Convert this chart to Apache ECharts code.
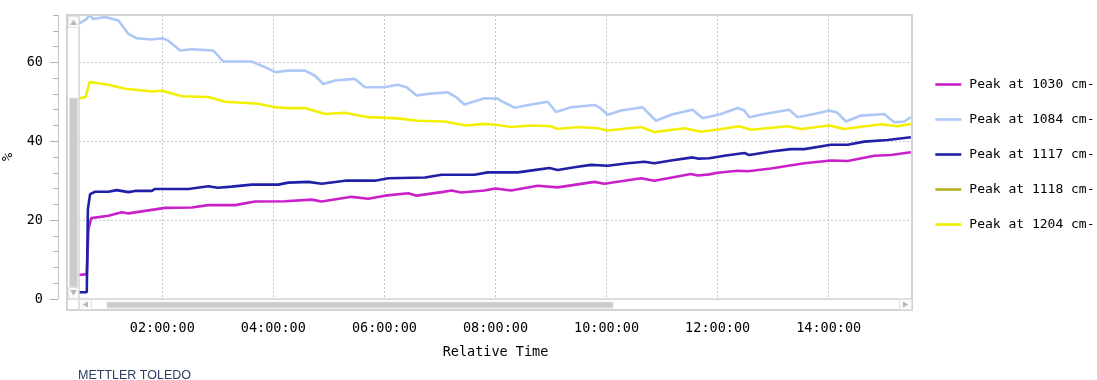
<!DOCTYPE html>
<html>
<head>
<meta charset="utf-8">
<script src="https://cdn.jsdelivr.net/npm/echarts@6/dist/echarts.min.js"></script>
<style>
html,body{margin:0;padding:0;background:#fff;}
#c{width:1097px;height:380px;}
</style>
</head>
<body>
<div id="c"></div>
<script>
// ---- data (time in hours, value in %) ----
const seriesNames = ['Peak at 1030 cm-', 'Peak at 1084 cm-', 'Peak at 1117 cm-', 'Peak at 1118 cm-', 'Peak at 1204 cm-'];
const seriesColors = ['#c920c9', '#adc8f6', '#2020a6', '#b6b41c', '#f2f000'];
const xTickHours = [2, 4, 6, 8, 10, 12, 14];
const yTickValues = [0, 20, 40, 60];

const peak1030 = [[0.50,6.1],[0.64,6.3],[0.67,17.7],[0.72,20.5],[1.03,21.1],[1.27,22.0],[1.39,21.7],[1.81,22.6],[2.05,23.1],[2.53,23.2],[2.83,23.8],[3.31,23.8],[3.67,24.7],[4.21,24.8],[4.69,25.2],[4.87,24.7],[5.41,25.9],[5.71,25.4],[6.01,26.2],[6.43,26.8],[6.58,26.2],[7.03,27.1],[7.21,27.5],[7.38,27.0],[7.80,27.5],[8.00,28.0],[8.28,27.5],[8.76,28.7],[9.12,28.3],[9.78,29.7],[9.96,29.2],[10.62,30.6],[10.86,30.0],[11.52,31.7],[11.64,31.3],[11.85,31.6],[12.00,32.0],[12.36,32.5],[12.54,32.4],[12.96,33.1],[13.56,34.4],[14.04,35.1],[14.34,35.0],[14.82,36.3],[15.12,36.5],[15.48,37.2]];
const peak1084 = [[0.50,69.8],[0.64,71.0],[0.68,72.0],[0.76,71.0],[0.97,71.5],[1.21,70.6],[1.39,67.2],[1.54,66.1],[1.81,65.8],[2.00,66.1],[2.11,65.5],[2.32,63.0],[2.53,63.3],[2.92,63.0],[3.10,60.2],[3.61,60.2],[3.91,58.4],[4.03,57.5],[4.27,57.9],[4.57,57.9],[4.75,56.6],[4.90,54.5],[5.11,55.4],[5.47,55.8],[5.65,53.7],[6.00,53.7],[6.24,54.3],[6.40,53.7],[6.58,51.6],[6.78,52.0],[7.14,52.4],[7.29,51.2],[7.44,49.3],[7.80,50.9],[8.04,50.8],[8.13,50.0],[8.34,48.5],[8.64,49.3],[8.94,50.0],[9.09,47.4],[9.36,48.6],[9.78,49.2],[9.87,48.6],[10.02,46.7],[10.26,47.8],[10.65,48.6],[10.89,45.2],[11.16,46.7],[11.55,48.0],[11.73,45.8],[12.06,46.9],[12.36,48.4],[12.48,47.8],[12.57,46.1],[12.84,46.9],[13.29,48.0],[13.44,46.1],[13.74,46.9],[14.01,47.8],[14.16,47.2],[14.31,45.0],[14.58,46.5],[15.00,46.9],[15.18,44.8],[15.36,45.0],[15.48,46.1]];
const peak1117 = [[0.50,1.7],[0.64,1.7],[0.66,22.8],[0.70,26.6],[0.79,27.2],[1.03,27.2],[1.18,27.6],[1.39,27.1],[1.51,27.4],[1.81,27.4],[1.87,27.9],[2.47,27.9],[2.83,28.6],[3.00,28.2],[3.25,28.5],[3.61,29.0],[4.09,29.0],[4.27,29.5],[4.63,29.7],[4.87,29.2],[5.29,30.0],[5.83,30.0],[6.07,30.6],[6.73,30.8],[7.03,31.5],[7.62,31.5],[7.86,32.1],[8.40,32.1],[8.76,32.8],[8.97,33.2],[9.12,32.7],[9.42,33.4],[9.72,34.0],[10.02,33.8],[10.38,34.4],[10.68,34.8],[10.86,34.4],[11.16,35.1],[11.55,35.9],[11.64,35.6],[11.85,35.7],[12.12,36.3],[12.48,37.0],[12.57,36.5],[12.96,37.4],[13.32,38.0],[13.56,38.0],[14.04,39.1],[14.34,39.1],[14.64,39.9],[15.06,40.3],[15.48,41.0]];
const peak1118 = [];
const peak1204 = [[0.50,50.9],[0.62,51.2],[0.69,55.0],[1.03,54.3],[1.33,53.3],[1.81,52.6],[2.00,52.8],[2.35,51.4],[2.83,51.2],[3.13,50.0],[3.73,49.5],[4.03,48.6],[4.27,48.4],[4.57,48.4],[4.93,46.9],[5.29,47.2],[5.71,46.1],[6.24,45.8],[6.60,45.2],[7.08,45.0],[7.47,44.0],[7.80,44.4],[8.04,44.1],[8.28,43.6],[8.64,44.0],[9.00,43.8],[9.12,43.1],[9.48,43.6],[9.84,43.3],[10.02,42.7],[10.62,43.6],[10.86,42.3],[11.40,43.3],[11.70,42.4],[12.06,43.1],[12.39,43.8],[12.60,42.9],[13.26,43.8],[13.50,43.1],[14.01,44.0],[14.28,43.1],[14.94,44.3],[15.24,43.8],[15.48,44.4]];

const seriesData = [peak1030, peak1084, peak1117, peak1118, peak1204];

// ---- chart ----
const FONT = '"DejaVu Sans Mono", "Liberation Mono", monospace';
const GRID = {left: 79, top: 15, width: 833, height: 284};
const chart = echarts.init(document.getElementById('c'), null, {renderer: 'canvas'});

function pad(n){ return (n < 10 ? '0' : '') + n; }

const triColor = '#b9b9b9';
const boxStroke = '#e2e2e2';
const thumbColor = '#c9cbcd';

const option = {
  animation: false,
  backgroundColor: '#fff',
  grid: {left: GRID.left, top: GRID.top, width: GRID.width, height: GRID.height, containLabel: false, outerBoundsMode: 'none'},
  legend: {
    orient: 'vertical', left: 934, top: 78, padding: 0, itemWidth: 26, itemHeight: 14, itemGap: 22,
    data: seriesNames,
    itemStyle: {opacity: 0},
    lineStyle: {width: 2.6},
    textStyle: {fontFamily: FONT, fontSize: 13, color: '#000', padding: [0,0,0,3]}
  },
  xAxis: [{
    type: 'value', min: 0.5, max: 15.5, position: 'bottom', offset: 11,
    name: 'Relative Time', nameLocation: 'middle', nameGap: 35,
    nameTextStyle: {fontFamily: FONT, fontSize: 13.5, color: '#000'},
    axisLine: {show: false},
    axisTick: {show: true, length: 6, customValues: xTickHours, lineStyle: {color: '#a8a8a8'}},
    axisLabel: {customValues: xTickHours, margin: 11, fontFamily: FONT, fontSize: 13.5, color: '#000',
      formatter: v => pad(Math.round(v)) + ':00:00'},
    splitLine: {show: true, lineStyle: {type: [2, 2], color: '#c6c6c6', width: 1}}
  }, {
    type: 'value', min: 0.5, max: 15.5, interval: 0.5, position: 'bottom', offset: 11,
    axisLine: {show: false},
    axisTick: {show: true, length: 4, lineStyle: {color: '#a8a8a8'}},
    axisLabel: {show: false},
    splitLine: {show: false}
  }],
  yAxis: [{
    type: 'value', min: 0, max: 72, position: 'left', offset: 21,
    name: '%', nameLocation: 'middle', nameGap: 43, nameRotate: 90,
    nameTextStyle: {fontFamily: FONT, fontSize: 13.5, color: '#000'},
    axisLine: {show: true, lineStyle: {color: '#c4c4c4', width: 1}},
    axisTick: {show: true, length: 8, customValues: yTickValues, lineStyle: {color: '#b0b0b0'}},
    axisLabel: {customValues: yTickValues, margin: 15, fontFamily: FONT, fontSize: 13.5, color: '#000'},
    splitLine: {show: true, lineStyle: {type: [2, 2], color: '#c6c6c6', width: 1}}
  }, {
    type: 'value', min: 0, max: 72, interval: 4, position: 'left', offset: 21,
    axisLine: {show: false},
    axisTick: {show: true, length: 5, lineStyle: {color: '#b0b0b0'}},
    axisLabel: {show: false},
    splitLine: {show: false}
  }],
  series: seriesNames.map((name, i) => ({
    name: name, type: 'line', xAxisIndex: 0, yAxisIndex: 0,
    data: seriesData[i], symbol: 'none', showSymbol: false, smooth: false,
    color: seriesColors[i],
    lineStyle: {width: 2.6, color: seriesColors[i]},
    z: i === 1 ? 2 : 3
  })),
  graphic: [
    // outer frame
    {type: 'rect', shape: {x: 67, y: 15, width: 845, height: 295}, style: {fill: null, stroke: '#d3d3d3', lineWidth: 2}, z: 50, silent: true},
    // vertical scrollbar
    {type: 'rect', shape: {x: 68, y: 16, width: 11, height: 283}, style: {fill: '#fff', stroke: null}, z: 49, silent: true},
    {type: 'line', shape: {x1: 79, y1: 15, x2: 79, y2: 310}, style: {stroke: '#d3d3d3', lineWidth: 1.5}, z: 50, silent: true},
    {type: 'rect', shape: {x: 68.5, y: 16.5, width: 10, height: 11}, style: {fill: '#fafafa', stroke: boxStroke, lineWidth: 1}, z: 51, silent: true},
    {type: 'polygon', shape: {points: [[73.5, 19.5], [70, 25], [77, 25]]}, style: {fill: triColor}, z: 52, silent: true},
    {type: 'rect', shape: {x: 69.5, y: 98, width: 8, height: 189}, style: {fill: thumbColor, stroke: '#e4e4e4', lineWidth: 1}, z: 51, silent: true},
    {type: 'rect', shape: {x: 68.5, y: 287.5, width: 10, height: 11}, style: {fill: '#fafafa', stroke: boxStroke, lineWidth: 1}, z: 51, silent: true},
    {type: 'polygon', shape: {points: [[70, 290], [77, 290], [73.5, 295.5]]}, style: {fill: triColor}, z: 52, silent: true},
    // horizontal scrollbar
    {type: 'rect', shape: {x: 79, y: 299.5, width: 833, height: 10}, style: {fill: '#fff', stroke: null}, z: 49, silent: true},
    {type: 'line', shape: {x1: 67, y1: 299, x2: 912, y2: 299}, style: {stroke: '#d3d3d3', lineWidth: 1.5}, z: 50, silent: true},
    {type: 'rect', shape: {x: 79.5, y: 299.5, width: 12, height: 10}, style: {fill: '#fafafa', stroke: boxStroke, lineWidth: 1}, z: 51, silent: true},
    {type: 'polygon', shape: {points: [[82.5, 304.5], [88, 301.5], [88, 307.5]]}, style: {fill: triColor}, z: 52, silent: true},
    {type: 'rect', shape: {x: 107, y: 302, width: 506, height: 6}, style: {fill: thumbColor, stroke: '#e4e4e4', lineWidth: 1}, z: 51, silent: true},
    {type: 'rect', shape: {x: 899.5, y: 299.5, width: 12, height: 10}, style: {fill: '#fafafa', stroke: boxStroke, lineWidth: 1}, z: 51, silent: true},
    {type: 'polygon', shape: {points: [[908.5, 304.5], [903, 301.5], [903, 307.5]]}, style: {fill: triColor}, z: 52, silent: true},
    // brand text
    {type: 'text', left: 78, top: 369, style: {text: 'METTLER TOLEDO', font: '12.5px "Liberation Sans", Arial, sans-serif', fill: '#2b3d63'}, z: 50, silent: true}
  ]
};
chart.setOption(option);
</script>
</body>
</html>
